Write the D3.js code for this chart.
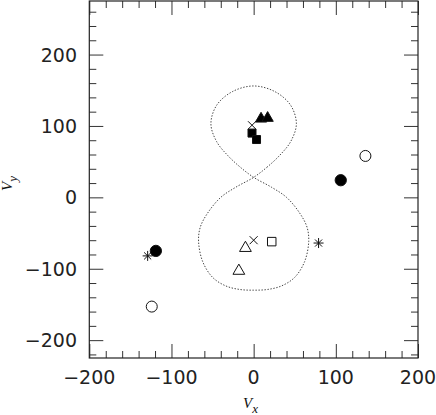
<!DOCTYPE html>
<html>
<head>
<meta charset="utf-8">
<script src="https://cdn.jsdelivr.net/npm/d3@7"></script>
<style>
  body { margin: 0; background: #fff; }
  svg { display: block; }
  .ticklabel text { font-family: "DejaVu Sans", sans-serif; font-size: 19px; fill: #222; }
  .axlabel { font-family: "Liberation Serif", serif; font-style: italic; fill: #111; }
</style>
</head>
<body>
<svg id="chart"></svg>
<script>
// curve, traced as one figure-eight
const loopX = [0, 16, 31, 45, 52, 45, 26, 0, -26, -45, -52, -45, -31, -16,
               0, 22, 40, 56, 65, 67, 62, 50, 34, 17, 0, -17, -34, -50, -62, -67, -65, -56, -40, -22];
const loopY = [28, 42, 58, 78, 103, 129, 148, 156, 148, 129, 103, 78, 58, 42,
               28, 14, 0, -22, -42, -62, -90, -112, -124, -129, -130, -129, -124, -112, -90, -62, -42, -22, 0, 14];

// point markers
const filledCircles = [[-119, -75], [106, 24]];
const openCircles = [[-124, -153], [136, 58]];
const filledSquares = [[-2, 90], [3.5, 81]];
const openSquares = [[22, -62]];
const filledTriangles = [[9, 110], [17, 111]];
const openTriangles = [[-10, -71], [-18, -103]];
const crosses = [[-2, 101], [0, -60]];
const asterisks = [[-129, -82], [79, -64]];

const xTicks = [-200, -100, 0, 100, 200];
const yTicks = [-200, -100, 0, 100, 200];

const W = 436, H = 415;
const m = { left: 89.3, right: 418, top: 1, bottom: 358 };

const svg = d3.select('#chart')
    .attr('width', W)
    .attr('height', H);

const x = d3.scaleLinear().domain([-200, 200]).range([m.left, m.right]);
const y = d3.scaleLinear().domain([-225, 275]).range([m.bottom, m.top]);

const xMinor = d3.range(-200, 201, 20).filter(v => !xTicks.includes(v));
const yMinor = d3.range(-220, 275, 20).filter(v => !yTicks.includes(v));

function tickAxis(axisFn, scale, vals, len) {
  return axisFn(scale).tickValues(vals).tickSizeInner(len).tickSizeOuter(0).tickFormat('');
}

// ticks point inward on all four sides
const gx = svg.append('g').attr('transform', `translate(0,${m.bottom})`);
gx.call(tickAxis(d3.axisTop, x, xTicks, 14));
gx.append('g').call(tickAxis(d3.axisTop, x, xMinor, 7));
const gxt = svg.append('g').attr('transform', `translate(0,${m.top})`);
gxt.call(tickAxis(d3.axisBottom, x, xTicks, 14));
gxt.append('g').call(tickAxis(d3.axisBottom, x, xMinor, 7));

const gy = svg.append('g').attr('transform', `translate(${m.left},0)`);
gy.call(tickAxis(d3.axisRight, y, yTicks, 14));
gy.append('g').call(tickAxis(d3.axisRight, y, yMinor, 7));
const gyr = svg.append('g').attr('transform', `translate(${m.right},0)`);
gyr.call(tickAxis(d3.axisLeft, y, yTicks, 14));
gyr.append('g').call(tickAxis(d3.axisLeft, y, yMinor, 7));

svg.selectAll('.domain').remove();
svg.selectAll('.tick line').attr('stroke', '#333');
svg.selectAll('.tick text').remove();

// tick labels
const fmt = d => d < 0 ? '\u2212' + Math.abs(d) : String(d);
svg.append('g').attr('class', 'ticklabel')
  .selectAll('text').data(xTicks).enter().append('text')
    .attr('x', d => x(d))
    .attr('y', 384)
    .attr('text-anchor', 'middle')
    .text(fmt);
svg.append('g').attr('class', 'ticklabel')
  .selectAll('text').data(yTicks).enter().append('text')
    .attr('x', 77)
    .attr('y', d => y(d) + 7)
    .attr('text-anchor', 'end')
    .text(fmt);

// frame
svg.append('rect')
    .attr('x', m.left).attr('y', m.top)
    .attr('width', m.right - m.left).attr('height', m.bottom - m.top)
    .attr('fill', 'none').attr('stroke', '#222').attr('stroke-width', 1.2);

// axis labels
const xl = svg.append('text').attr('class', 'axlabel')
    .attr('x', 243).attr('y', 408).style('font-size', '15px');
xl.append('tspan').text('V');
xl.append('tspan').attr('dy', 5).style('font-size', '13px').text('x');

const yl = svg.append('text').attr('class', 'axlabel')
    .attr('transform', 'translate(12,191) rotate(-90)').style('font-size', '15px');
yl.append('tspan').text('V');
yl.append('tspan').attr('dy', 5).style('font-size', '13px').text('y');

// dotted figure-eight
const loop = loopX.map((v, i) => [v, loopY[i]]);
svg.append('path')
    .datum(loop)
    .attr('d', d3.line().x(d => x(d[0])).y(d => y(d[1])).curve(d3.curveCatmullRomClosed.alpha(0.5)))
    .attr('fill', 'none')
    .attr('stroke', '#444')
    .attr('stroke-width', 1)
    .attr('stroke-dasharray', '1.4,1.6');

// custom marker shapes
const timesShape = {
  draw(ctx, size) {
    const r = Math.sqrt(size) / 2;
    ctx.moveTo(-r, -r); ctx.lineTo(r, r);
    ctx.moveTo(r, -r); ctx.lineTo(-r, r);
  }
};
const starShape = {
  draw(ctx, size) {
    const r = Math.sqrt(size) / 2;
    const q = r * Math.SQRT1_2;
    ctx.moveTo(-r, 0); ctx.lineTo(r, 0);
    ctx.moveTo(0, -r); ctx.lineTo(0, r);
    ctx.moveTo(-q, -q); ctx.lineTo(q, q);
    ctx.moveTo(q, -q); ctx.lineTo(-q, q);
  }
};

function markers(data, type, size, filled) {
  svg.append('g').selectAll('path').data(data).enter().append('path')
      .attr('transform', d => `translate(${x(d[0])},${y(d[1])})`)
      .attr('d', d3.symbol().type(type).size(size))
      .attr('fill', filled ? '#000' : 'none')
      .attr('stroke', '#111')
      .attr('stroke-width', 1);
}

markers(filledCircles, d3.symbolCircle, 100, true);
markers(openCircles, d3.symbolCircle, 95, false);
markers(filledSquares, d3.symbolSquare, 64, true);
markers(openSquares, d3.symbolSquare, 72, false);
markers(filledTriangles, d3.symbolTriangle, 55, true);
markers(openTriangles, d3.symbolTriangle, 60, false);
markers(crosses, timesShape, 64, false);
markers(asterisks, starShape, 100, false);
</script>
</body>
</html>
